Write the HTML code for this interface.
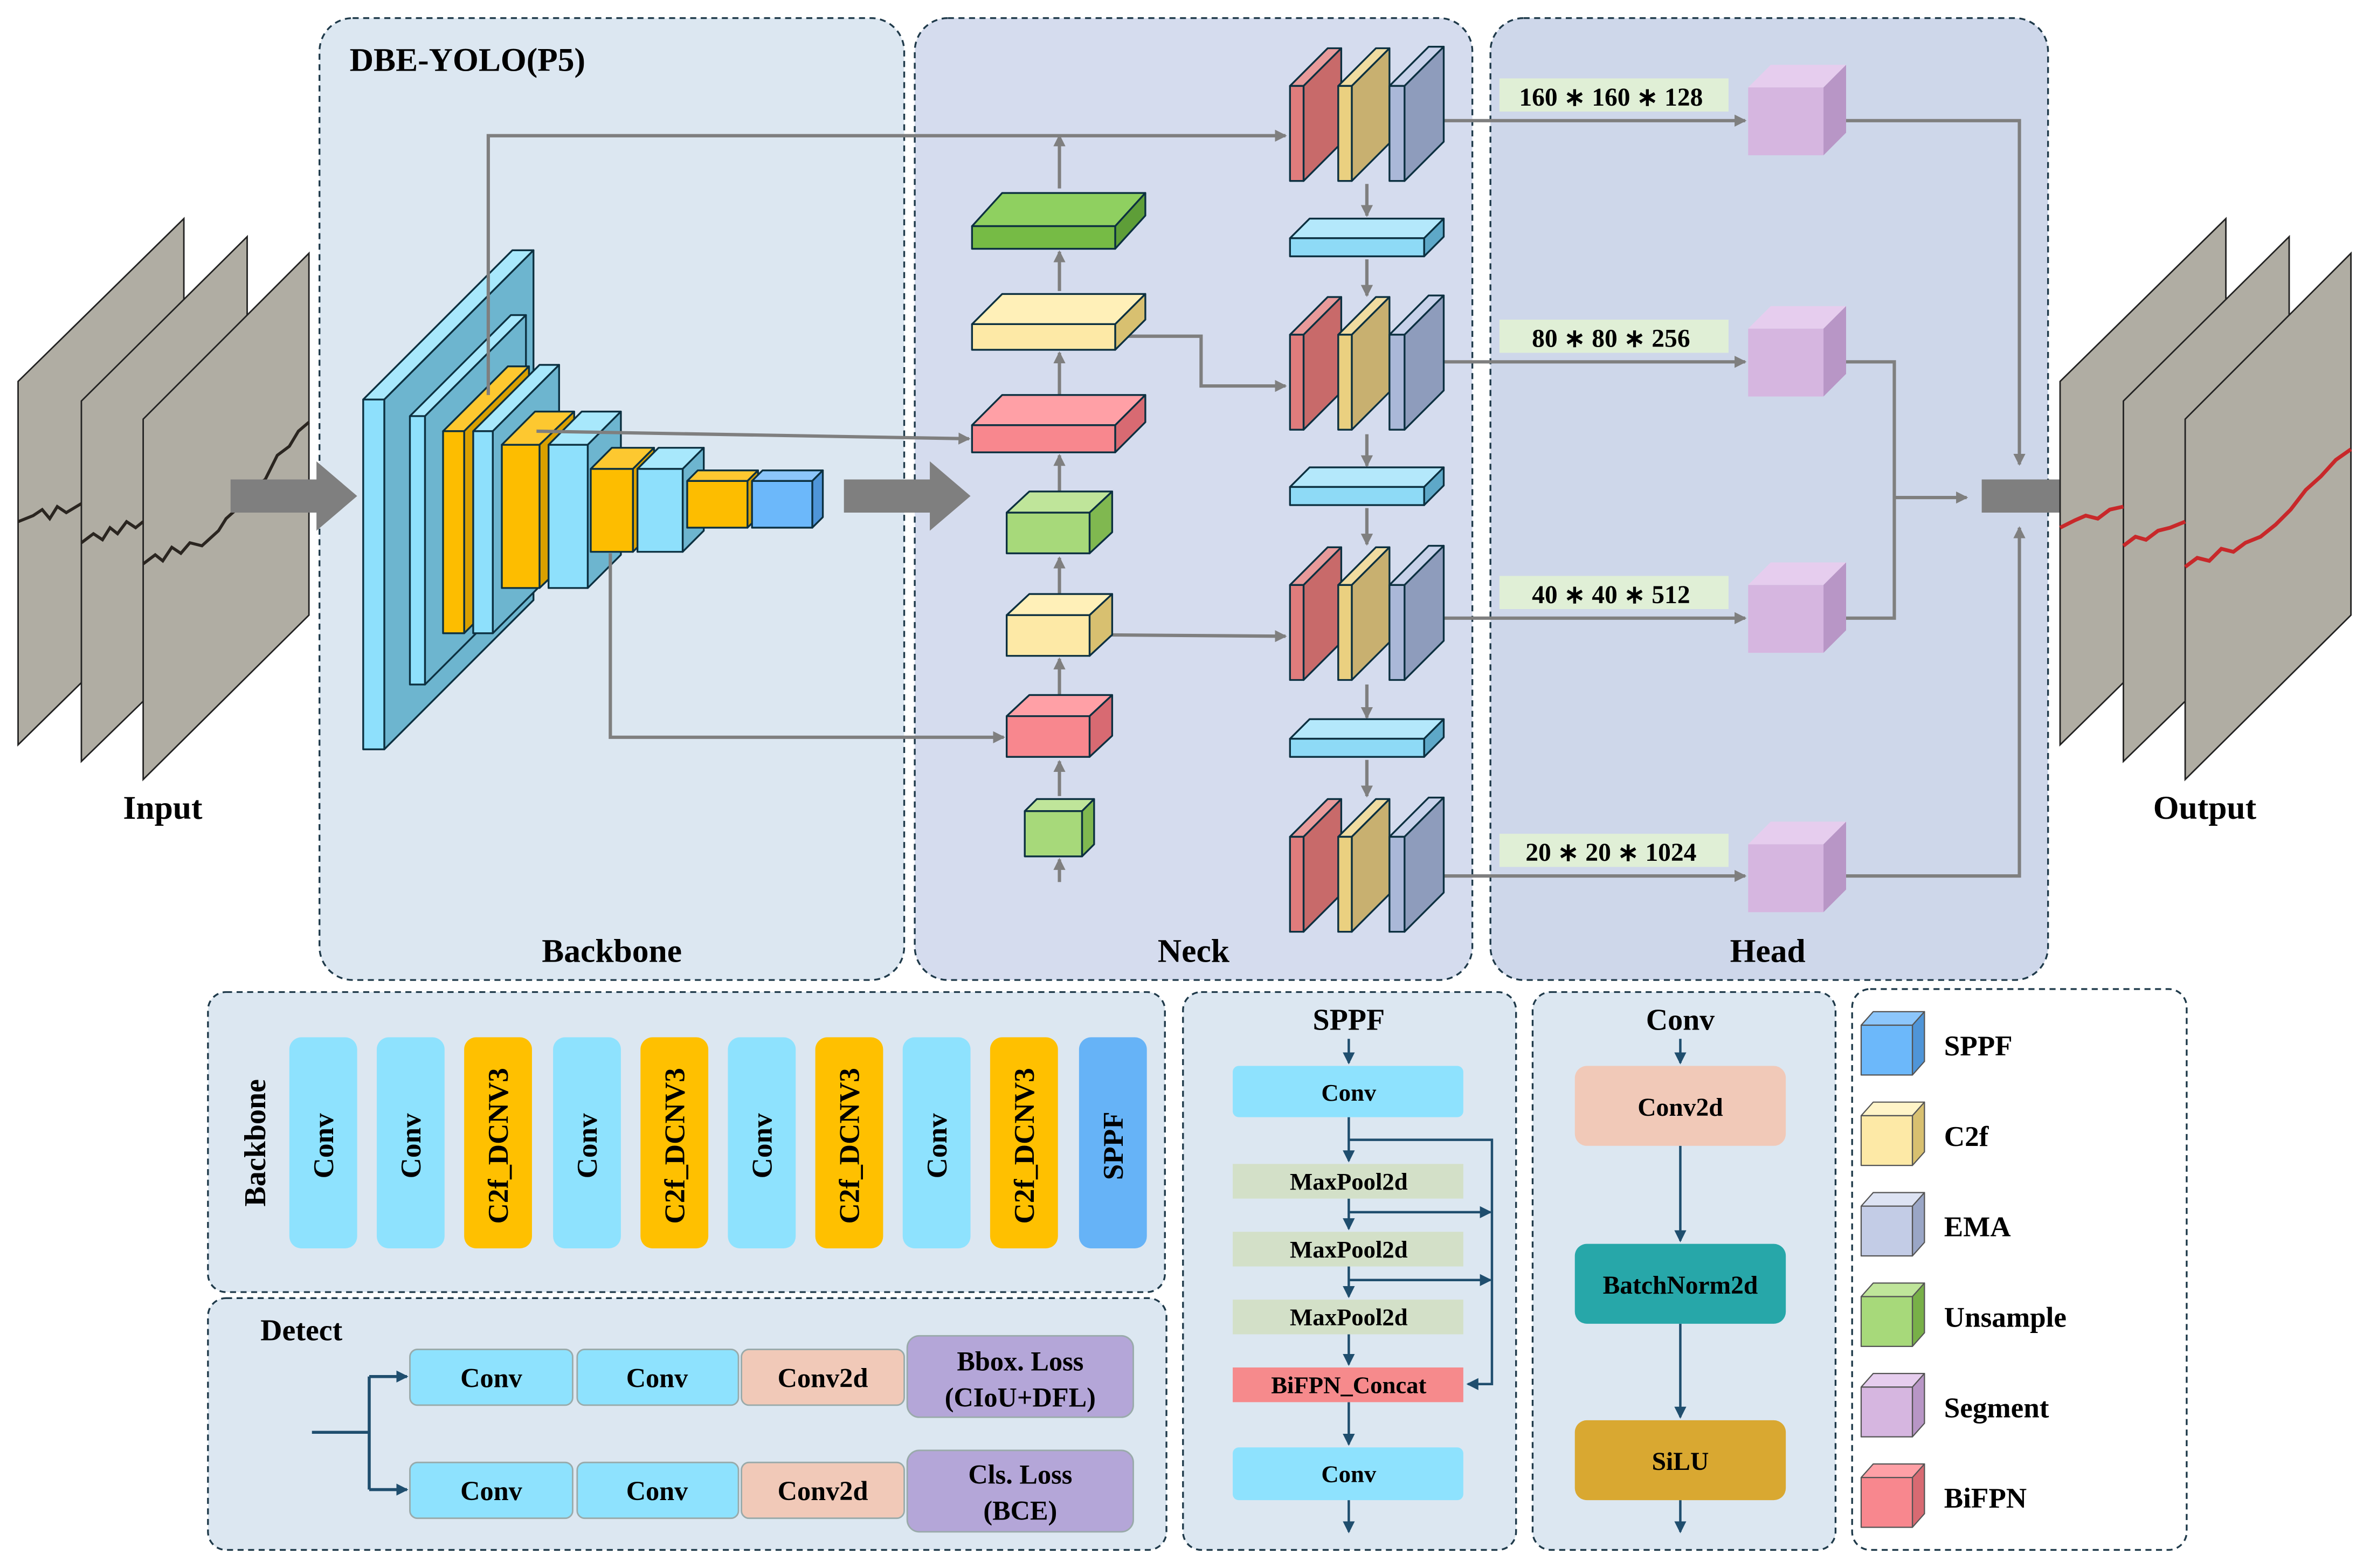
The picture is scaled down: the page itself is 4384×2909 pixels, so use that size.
<!DOCTYPE html>
<html><head><meta charset="utf-8"><style>
html,body{margin:0;padding:0;background:#fff;}
svg{display:block;}
text{font-family:"Liberation Serif",serif;font-weight:bold;fill:#000;}
</style></head><body>
<svg width="4384" height="2909" viewBox="0 0 1568 1040" preserveAspectRatio="none" xmlns="http://www.w3.org/2000/svg">
<defs>
<marker id="ag" markerWidth="8" markerHeight="8" refX="7" refY="4" orient="auto" markerUnits="userSpaceOnUse"><path d="M0,0 L8,4 L0,8 z" fill="#7f7f7f"/></marker>
<marker id="ab" markerWidth="8" markerHeight="8" refX="7" refY="4" orient="auto" markerUnits="userSpaceOnUse"><path d="M0,0 L8,4 L0,8 z" fill="#1f4e6e"/></marker>
</defs>

<rect x="212" y="12" width="388" height="638" rx="22" fill="#dce7f1" stroke="#1f3a4a" stroke-width="1.2" stroke-dasharray="4,3"/>
<rect x="607" y="12" width="370" height="638" rx="22" fill="#d5dcee" stroke="#1f3a4a" stroke-width="1.2" stroke-dasharray="4,3"/>
<rect x="989" y="12" width="370" height="638" rx="22" fill="#ced7ea" stroke="#1f3a4a" stroke-width="1.2" stroke-dasharray="4,3"/>
<text x="232" y="47" font-size="22">DBE-YOLO(P5)</text>
<text x="406" y="638" font-size="22" text-anchor="middle">Backbone</text>
<text x="792" y="638" font-size="22" text-anchor="middle">Neck</text>
<text x="1173" y="638" font-size="22" text-anchor="middle">Head</text>
<text x="108" y="543" font-size="22" text-anchor="middle">Input</text>
<text x="1463" y="543" font-size="22" text-anchor="middle">Output</text>

<g stroke="#222" stroke-width="1" fill="#b0ada3">
<polygon points="12,253 122,145 122,386 12,494"/>
<polygon points="54,266 164,157 164,398 54,505"/>
<polygon points="95,278 205,168 205,408 95,517"/>
</g>
<g fill="none" stroke="#2a2520" stroke-width="2">
<polyline points="12,346 22,342 28,338 33,344 38,336 44,340 54,334"/>
<polyline points="54,360 62,354 68,358 73,350 78,354 84,346 90,350 95,346"/>
<polyline points="95,374 103,368 108,372 114,363 120,367 126,360 134,362 145,352 150,344 160,335 170,322 176,318 184,302 192,296 198,286 205,280"/>
</g>
<polygon points="153,318 210,318 210,306 237,329 210,352 210,340 153,340" fill="#7f7f7f"/>
<polygon points="560,318 617,318 617,306 644,329 617,352 617,340 560,340" fill="#7f7f7f"/>
<polygon points="1315,318 1370,318 1370,306 1397,329 1370,352 1370,340 1315,340" fill="#7f7f7f"/>

<g stroke="#222" stroke-width="1" fill="#b0ada3">
<polygon points="1367,253 1477,145 1477,386 1367,494"/>
<polygon points="1409,266 1519,157 1519,398 1409,505"/>
<polygon points="1450,278 1560,168 1560,408 1450,517"/>
</g>
<g fill="none" stroke="#c8282a" stroke-width="2.5">
<polyline points="1367,350 1377,345 1384,342 1392,344 1400,338 1409,336"/>
<polyline points="1409,362 1417,356 1424,358 1432,352 1440,350 1450,346"/>
<polyline points="1450,376 1458,370 1466,372 1474,364 1482,366 1490,360 1500,356 1510,348 1520,338 1530,325 1540,316 1550,305 1560,298"/>
</g>

<g stroke="#0c3040" stroke-width="1.2" stroke-linejoin="round">
<polygon points="241,265 340,166 354,166 255,265" fill="#a8e8fc"/>
<polygon points="255,265 354,166 354,398 255,497" fill="#6db5cf"/>
<rect x="241" y="265" width="14" height="232" fill="#8ee0fc"/>
<polygon points="272,276 339,209 349,209 282,276" fill="#a8e8fc"/>
<polygon points="282,276 349,209 349,387 282,454" fill="#6db5cf"/>
<rect x="272" y="276" width="10" height="178" fill="#8ee0fc"/>
<polygon points="294,286 337,243 351,243 308,286" fill="#fdc830"/>
<polygon points="308,286 351,243 351,377 308,420" fill="#d9a000"/>
<rect x="294" y="286" width="14" height="134" fill="#fdbd00"/>
<polygon points="314,286 358,242 371,242 327,286" fill="#a8e8fc"/>
<polygon points="327,286 371,242 371,376 327,420" fill="#6db5cf"/>
<rect x="314" y="286" width="13" height="134" fill="#8ee0fc"/>
<polygon points="333,295 355,273 381,273 358,295" fill="#fdc830"/>
<polygon points="358,295 381,273 381,368 358,390" fill="#d9a000"/>
<rect x="333" y="295" width="25" height="95" fill="#fdbd00"/>
<polygon points="364,295 386,273 412,273 390,295" fill="#a8e8fc"/>
<polygon points="390,295 412,273 412,368 390,390" fill="#6db5cf"/>
<rect x="364" y="295" width="26" height="95" fill="#8ee0fc"/>
<polygon points="392,311 406,297 434,297 420,311" fill="#fdc830"/>
<polygon points="420,311 434,297 434,352 420,366" fill="#d9a000"/>
<rect x="392" y="311" width="28" height="55" fill="#fdbd00"/>
<polygon points="423,311 437,297 467,297 453,311" fill="#a8e8fc"/>
<polygon points="453,311 467,297 467,352 453,366" fill="#6db5cf"/>
<rect x="423" y="311" width="30" height="55" fill="#8ee0fc"/>
<polygon points="456,319 463,312 503,312 496,319" fill="#fdc830"/>
<polygon points="496,319 503,312 503,343 496,350" fill="#d9a000"/>
<rect x="456" y="319" width="40" height="31" fill="#fdbd00"/>
<polygon points="499,319 506,312 546,312 539,319" fill="#8cc6fb"/>
<polygon points="539,319 546,312 546,343 539,350" fill="#4f95d8"/>
<rect x="499" y="319" width="40" height="31" fill="#6cb8fa"/>
</g>

<g fill="none" stroke="#7f7f7f" stroke-width="2.2">
<polyline points="324,262 324,90 853,90" marker-end="url(#ag)"/>
<polyline points="356,286 643,291" marker-end="url(#ag)"/>
<polyline points="405,367 405,489 666,489" marker-end="url(#ag)"/>
<polyline points="740,223 797,223 797,256 853,256" marker-end="url(#ag)"/>
<polyline points="723,421 853,422" marker-end="url(#ag)"/>
<line x1="703" y1="585" x2="703" y2="570" marker-end="url(#ag)"/>
<line x1="703" y1="528" x2="703" y2="505" marker-end="url(#ag)"/>
<line x1="703" y1="462" x2="703" y2="437" marker-end="url(#ag)"/>
<line x1="703" y1="395" x2="703" y2="370" marker-end="url(#ag)"/>
<line x1="703" y1="327" x2="703" y2="302" marker-end="url(#ag)"/>
<line x1="703" y1="262" x2="703" y2="234" marker-end="url(#ag)"/>
<line x1="703" y1="193" x2="703" y2="167" marker-end="url(#ag)"/>
<line x1="703" y1="125" x2="703" y2="90" marker-end="url(#ag)"/>
<line x1="907" y1="122" x2="907" y2="143" marker-end="url(#ag)"/>
<line x1="907" y1="172" x2="907" y2="196" marker-end="url(#ag)"/>
<line x1="907" y1="288" x2="907" y2="309" marker-end="url(#ag)"/>
<line x1="907" y1="337" x2="907" y2="361" marker-end="url(#ag)"/>
<line x1="907" y1="454" x2="907" y2="476" marker-end="url(#ag)"/>
<line x1="907" y1="504" x2="907" y2="528" marker-end="url(#ag)"/>
<line x1="945" y1="80" x2="1158" y2="80" marker-end="url(#ag)"/>
<line x1="945" y1="240" x2="1158" y2="240" marker-end="url(#ag)"/>
<line x1="945" y1="410" x2="1158" y2="410" marker-end="url(#ag)"/>
<line x1="945" y1="581" x2="1158" y2="581" marker-end="url(#ag)"/>
<polyline points="1225,80 1340,80 1340,308" marker-end="url(#ag)"/>
<polyline points="1225,581 1340,581 1340,350" marker-end="url(#ag)"/>
<polyline points="1225,240 1257,240 1257,410 1225,410"/>
<line x1="1257" y1="330" x2="1305" y2="330" marker-end="url(#ag)"/>
</g>

<g stroke="#0c3040" stroke-width="1.2" stroke-linejoin="round">
<polygon points="645,150 665,128 760,128 740,150" fill="#8fd060"/><polygon points="740,150 760,128 760,143 740,165" fill="#5e9e38"/><rect x="645" y="150" width="95" height="15" fill="#76bb45"/>
<polygon points="645,215 665,195 760,195 740,215" fill="#fff0b8"/><polygon points="740,215 760,195 760,212 740,232" fill="#d8c070"/><rect x="645" y="215" width="95" height="17" fill="#fde9a6"/>
<polygon points="645,282 665,262 760,262 740,282" fill="#ffa0a6"/><polygon points="740,282 760,262 760,280 740,300" fill="#d86a72"/><rect x="645" y="282" width="95" height="18" fill="#f8878e"/>
<polygon points="668,340 683,326 738,326 723,340" fill="#bfe59a"/><polygon points="723,340 738,326 738,353 723,367" fill="#80b850"/><rect x="668" y="340" width="55" height="27" fill="#a7d97a"/>
<polygon points="668,408 683,394 738,394 723,408" fill="#fff0b8"/><polygon points="723,408 738,394 738,421 723,435" fill="#d8c070"/><rect x="668" y="408" width="55" height="27" fill="#fde9a6"/>
<polygon points="668,475 683,461 738,461 723,475" fill="#ffa0a6"/><polygon points="723,475 738,461 738,488 723,502" fill="#d86a72"/><rect x="668" y="475" width="55" height="27" fill="#f8878e"/>
<polygon points="680,538 688,530 726,530 718,538" fill="#bfe59a"/><polygon points="718,538 726,530 726,560 718,568" fill="#80b850"/><rect x="680" y="538" width="38" height="30" fill="#a7d97a"/>
</g>

<g stroke="#0c3040" stroke-width="1.2" stroke-linejoin="round">
<polygon points="856,57 881,32 890,32 865,57" fill="#e89a9a"/><polygon points="865,57 890,32 890,95 865,120" fill="#c86a6a"/><rect x="856" y="57" width="9" height="63" fill="#e07c7c"/>
<polygon points="888,57 913,32 922,32 897,57" fill="#f0dca0"/><polygon points="897,57 922,32 922,95 897,120" fill="#c8b070"/><rect x="888" y="57" width="9" height="63" fill="#ead080"/>
<polygon points="922,57 948,31 958,31 932,57" fill="#c8d2ea"/><polygon points="932,57 958,31 958,94 932,120" fill="#8e9cbc"/><rect x="922" y="57" width="10" height="63" fill="#aab8d8"/>
<polygon points="856,222 881,197 890,197 865,222" fill="#e89a9a"/><polygon points="865,222 890,197 890,260 865,285" fill="#c86a6a"/><rect x="856" y="222" width="9" height="63" fill="#e07c7c"/>
<polygon points="888,222 913,197 922,197 897,222" fill="#f0dca0"/><polygon points="897,222 922,197 922,260 897,285" fill="#c8b070"/><rect x="888" y="222" width="9" height="63" fill="#ead080"/>
<polygon points="922,222 948,196 958,196 932,222" fill="#c8d2ea"/><polygon points="932,222 958,196 958,259 932,285" fill="#8e9cbc"/><rect x="922" y="222" width="10" height="63" fill="#aab8d8"/>
<polygon points="856,388 881,363 890,363 865,388" fill="#e89a9a"/><polygon points="865,388 890,363 890,426 865,451" fill="#c86a6a"/><rect x="856" y="388" width="9" height="63" fill="#e07c7c"/>
<polygon points="888,388 913,363 922,363 897,388" fill="#f0dca0"/><polygon points="897,388 922,363 922,426 897,451" fill="#c8b070"/><rect x="888" y="388" width="9" height="63" fill="#ead080"/>
<polygon points="922,388 948,362 958,362 932,388" fill="#c8d2ea"/><polygon points="932,388 958,362 958,425 932,451" fill="#8e9cbc"/><rect x="922" y="388" width="10" height="63" fill="#aab8d8"/>
<polygon points="856,555 881,530 890,530 865,555" fill="#e89a9a"/><polygon points="865,555 890,530 890,593 865,618" fill="#c86a6a"/><rect x="856" y="555" width="9" height="63" fill="#e07c7c"/>
<polygon points="888,555 913,530 922,530 897,555" fill="#f0dca0"/><polygon points="897,555 922,530 922,593 897,618" fill="#c8b070"/><rect x="888" y="555" width="9" height="63" fill="#ead080"/>
<polygon points="922,555 948,529 958,529 932,555" fill="#c8d2ea"/><polygon points="932,555 958,529 958,592 932,618" fill="#8e9cbc"/><rect x="922" y="555" width="10" height="63" fill="#aab8d8"/>
<polygon points="856,158 869,145 958,145 945,158" fill="#b4e8fb"/><polygon points="945,158 958,145 958,157 945,170" fill="#5ea8c8"/><rect x="856" y="158" width="89" height="12" fill="#8edaf6"/>
<polygon points="856,323 869,310 958,310 945,323" fill="#b4e8fb"/><polygon points="945,323 958,310 958,322 945,335" fill="#5ea8c8"/><rect x="856" y="323" width="89" height="12" fill="#8edaf6"/>
<polygon points="856,490 869,477 958,477 945,490" fill="#b4e8fb"/><polygon points="945,490 958,477 958,489 945,502" fill="#5ea8c8"/><rect x="856" y="490" width="89" height="12" fill="#8edaf6"/>
</g>

<g>
<rect x="995" y="52" width="152" height="22" fill="#e0efd6"/>
<rect x="995" y="212" width="152" height="22" fill="#e0efd6"/>
<rect x="995" y="382" width="152" height="22" fill="#e0efd6"/>
<rect x="995" y="553" width="152" height="22" fill="#e0efd6"/>
<text x="1069" y="70" font-size="17" text-anchor="middle">160 ∗ 160 ∗ 128</text>
<text x="1069" y="230" font-size="17" text-anchor="middle">80 ∗ 80 ∗ 256</text>
<text x="1069" y="400" font-size="17" text-anchor="middle">40 ∗ 40 ∗ 512</text>
<text x="1069" y="571" font-size="17" text-anchor="middle">20 ∗ 20 ∗ 1024</text>
</g>
<g stroke="none">
<polygon points="1160,58 1175,43 1225,43 1210,58" fill="#e6cdee"/><polygon points="1210,58 1225,43 1225,88 1210,103" fill="#b896c6"/><rect x="1160" y="58" width="50" height="45" fill="#d6b6e0"/>
<polygon points="1160,218 1175,203 1225,203 1210,218" fill="#e6cdee"/><polygon points="1210,218 1225,203 1225,248 1210,263" fill="#b896c6"/><rect x="1160" y="218" width="50" height="45" fill="#d6b6e0"/>
<polygon points="1160,388 1175,373 1225,373 1210,388" fill="#e6cdee"/><polygon points="1210,388 1225,373 1225,418 1210,433" fill="#b896c6"/><rect x="1160" y="388" width="50" height="45" fill="#d6b6e0"/>
<polygon points="1160,560 1175,545 1225,545 1210,560" fill="#e6cdee"/><polygon points="1210,560 1225,545 1225,590 1210,605" fill="#b896c6"/><rect x="1160" y="560" width="50" height="45" fill="#d6b6e0"/>
</g>

<g fill="#dce7f1" stroke="#1f3a4a" stroke-width="1.2" stroke-dasharray="4,3">
<rect x="138" y="658" width="635" height="199" rx="12"/>
<rect x="138" y="861" width="636" height="167" rx="12"/>
<rect x="785" y="658" width="221" height="370" rx="12"/>
<rect x="1017" y="658" width="201" height="370" rx="12"/>
<rect x="1229" y="656" width="222" height="372" rx="12" fill="#fff"/>
</g>

<text transform="translate(176,758) rotate(-90)" font-size="20" text-anchor="middle">Backbone</text>
<g>
<rect x="192" y="688" width="45" height="140" rx="8" fill="#8ee2fe"/>
<rect x="250" y="688" width="45" height="140" rx="8" fill="#8ee2fe"/>
<rect x="308" y="688" width="45" height="140" rx="8" fill="#ffc000"/>
<rect x="367" y="688" width="45" height="140" rx="8" fill="#8ee2fe"/>
<rect x="425" y="688" width="45" height="140" rx="8" fill="#ffc000"/>
<rect x="483" y="688" width="45" height="140" rx="8" fill="#8ee2fe"/>
<rect x="541" y="688" width="45" height="140" rx="8" fill="#ffc000"/>
<rect x="599" y="688" width="45" height="140" rx="8" fill="#8ee2fe"/>
<rect x="657" y="688" width="45" height="140" rx="8" fill="#ffc000"/>
<rect x="716" y="688" width="45" height="140" rx="8" fill="#66b3f7"/>
</g>
<g font-size="19">
<text transform="translate(221,760) rotate(-90)" text-anchor="middle">Conv</text>
<text transform="translate(279,760) rotate(-90)" text-anchor="middle">Conv</text>
<text transform="translate(337,760) rotate(-90)" text-anchor="middle">C2f_DCNV3</text>
<text transform="translate(396,760) rotate(-90)" text-anchor="middle">Conv</text>
<text transform="translate(454,760) rotate(-90)" text-anchor="middle">C2f_DCNV3</text>
<text transform="translate(512,760) rotate(-90)" text-anchor="middle">Conv</text>
<text transform="translate(570,760) rotate(-90)" text-anchor="middle">C2f_DCNV3</text>
<text transform="translate(628,760) rotate(-90)" text-anchor="middle">Conv</text>
<text transform="translate(686,760) rotate(-90)" text-anchor="middle">C2f_DCNV3</text>
<text transform="translate(745,760) rotate(-90)" text-anchor="middle">SPPF</text>
</g>

<text x="200" y="889" font-size="20" text-anchor="middle">Detect</text>
<g fill="none" stroke="#1f4e6e" stroke-width="2">
<polyline points="207,950 245,950"/>
<polyline points="245,913 245,988"/>
<line x1="245" y1="913" x2="270" y2="913" marker-end="url(#ab)"/>
<line x1="245" y1="988" x2="270" y2="988" marker-end="url(#ab)"/>
</g>
<g stroke="#9aa" stroke-width="1">
<rect x="272" y="895" width="108" height="37" rx="5" fill="#8ee2fe"/>
<rect x="383" y="895" width="107" height="37" rx="5" fill="#8ee2fe"/>
<rect x="492" y="895" width="108" height="37" rx="5" fill="#f1c9b8"/>
<rect x="602" y="886" width="150" height="54" rx="8" fill="#b4a6d8"/>
<rect x="272" y="970" width="108" height="37" rx="5" fill="#8ee2fe"/>
<rect x="383" y="970" width="107" height="37" rx="5" fill="#8ee2fe"/>
<rect x="492" y="970" width="108" height="37" rx="5" fill="#f1c9b8"/>
<rect x="602" y="962" width="150" height="54" rx="8" fill="#b4a6d8"/>
</g>
<g font-size="18" text-anchor="middle">
<text x="326" y="920">Conv</text><text x="436" y="920">Conv</text><text x="546" y="920">Conv2d</text>
<text x="677" y="909">Bbox. Loss</text><text x="677" y="933">(CIoU+DFL)</text>
<text x="326" y="995">Conv</text><text x="436" y="995">Conv</text><text x="546" y="995">Conv2d</text>
<text x="677" y="984">Cls. Loss</text><text x="677" y="1008">(BCE)</text>
</g>

<text x="895" y="683" font-size="20" text-anchor="middle">SPPF</text>
<g fill="none" stroke="#1f4e6e" stroke-width="1.6">
<line x1="895" y1="689" x2="895" y2="705" marker-end="url(#ab)"/>
<line x1="895" y1="741" x2="895" y2="770" marker-end="url(#ab)"/>
<line x1="895" y1="795" x2="895" y2="815" marker-end="url(#ab)"/>
<line x1="895" y1="840" x2="895" y2="860" marker-end="url(#ab)"/>
<line x1="895" y1="885" x2="895" y2="905" marker-end="url(#ab)"/>
<line x1="895" y1="930" x2="895" y2="958" marker-end="url(#ab)"/>
<line x1="895" y1="995" x2="895" y2="1016" marker-end="url(#ab)"/>
<polyline points="895,756 990,756 990,918 974,918" marker-end="url(#ab)"/>
<line x1="895" y1="804" x2="989" y2="804" marker-end="url(#ab)"/>
<line x1="895" y1="849" x2="989" y2="849" marker-end="url(#ab)"/>
</g>
<rect x="818" y="707" width="153" height="34" rx="4" fill="#8ee2fe"/>
<rect x="818" y="772" width="153" height="23" fill="#d3e0c8"/>
<rect x="818" y="817" width="153" height="23" fill="#d3e0c8"/>
<rect x="818" y="862" width="153" height="23" fill="#d3e0c8"/>
<rect x="818" y="907" width="153" height="23" fill="#f68a8c"/>
<rect x="818" y="960" width="153" height="35" rx="4" fill="#8ee2fe"/>
<g font-size="16" text-anchor="middle">
<text x="895" y="730">Conv</text>
<text x="895" y="789">MaxPool2d</text>
<text x="895" y="834">MaxPool2d</text>
<text x="895" y="879">MaxPool2d</text>
<text x="895" y="924">BiFPN_Concat</text>
<text x="895" y="983">Conv</text>
</g>

<text x="1115" y="683" font-size="20" text-anchor="middle">Conv</text>
<g fill="none" stroke="#1f4e6e" stroke-width="1.6">
<line x1="1115" y1="689" x2="1115" y2="705" marker-end="url(#ab)"/>
<line x1="1115" y1="760" x2="1115" y2="823" marker-end="url(#ab)"/>
<line x1="1115" y1="878" x2="1115" y2="940" marker-end="url(#ab)"/>
<line x1="1115" y1="995" x2="1115" y2="1016" marker-end="url(#ab)"/>
</g>
<rect x="1045" y="707" width="140" height="53" rx="8" fill="#f1c9b8"/>
<rect x="1045" y="825" width="140" height="53" rx="8" fill="#27a7a9"/>
<rect x="1045" y="942" width="140" height="53" rx="8" fill="#d9a831"/>
<g font-size="17" text-anchor="middle">
<text x="1115" y="740">Conv2d</text>
<text x="1115" y="858">BatchNorm2d</text>
<text x="1115" y="975">SiLU</text>
</g>

<g stroke="#555" stroke-width="0.8" stroke-linejoin="round">
<polygon points="1235,680 1243,671 1277,671 1269,680" fill="#8cc6fb"/><polygon points="1269,680 1277,671 1277,704 1269,713" fill="#4f95d8"/><rect x="1235" y="680" width="34" height="33" fill="#6cb8fa"/>
<polygon points="1235,740 1243,731 1277,731 1269,740" fill="#fff4c8"/><polygon points="1269,740 1277,731 1277,764 1269,773" fill="#d8c070"/><rect x="1235" y="740" width="34" height="33" fill="#fde9a6"/>
<polygon points="1235,800 1243,791 1277,791 1269,800" fill="#dde3f3"/><polygon points="1269,800 1277,791 1277,824 1269,833" fill="#9aa6c6"/><rect x="1235" y="800" width="34" height="33" fill="#c3cce6"/>
<polygon points="1235,860 1243,851 1277,851 1269,860" fill="#bfe59a"/><polygon points="1269,860 1277,851 1277,884 1269,893" fill="#78b048"/><rect x="1235" y="860" width="34" height="33" fill="#a7d97a"/>
<polygon points="1235,920 1243,911 1277,911 1269,920" fill="#e6cdee"/><polygon points="1269,920 1277,911 1277,944 1269,953" fill="#b896c6"/><rect x="1235" y="920" width="34" height="33" fill="#d6b6e0"/>
<polygon points="1235,980 1243,971 1277,971 1269,980" fill="#ffa0a6"/><polygon points="1269,980 1277,971 1277,1004 1269,1013" fill="#d86a72"/><rect x="1235" y="980" width="34" height="33" fill="#f8878e"/>
</g>
<g font-size="19">
<text x="1290" y="700">SPPF</text>
<text x="1290" y="760">C2f</text>
<text x="1290" y="820">EMA</text>
<text x="1290" y="880">Unsample</text>
<text x="1290" y="940">Segment</text>
<text x="1290" y="1000">BiFPN</text>
</g>
</svg>
</body></html>
